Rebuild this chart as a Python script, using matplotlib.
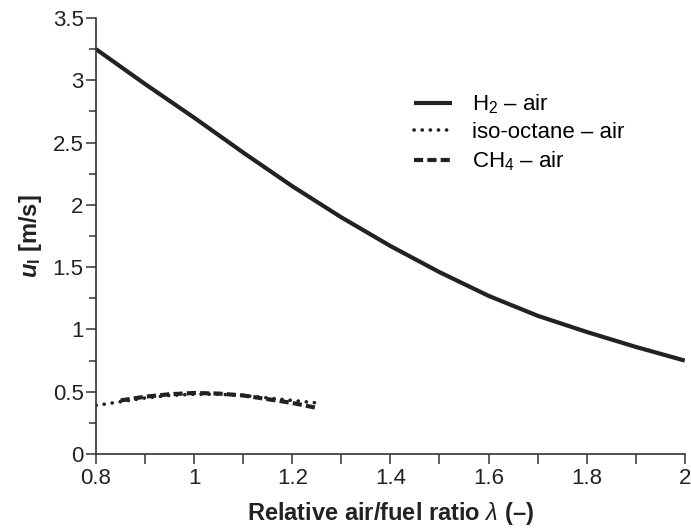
import numpy as np
import matplotlib.pyplot as plt
from matplotlib.ticker import FixedLocator, MultipleLocator

plt.rcParams['font.family'] = ['Liberation Sans', 'DejaVu Sans']
plt.rcParams['mathtext.fontset'] = 'custom'
plt.rcParams['mathtext.rm'] = 'Liberation Sans'
plt.rcParams['mathtext.it'] = 'Liberation Sans:italic'
plt.rcParams['mathtext.bf'] = 'Liberation Sans:bold'
plt.rcParams['mathtext.bfit'] = 'Liberation Sans:bold:italic'

# laminar burning velocity vs relative air/fuel ratio
lam_h2 = [0.8, 0.9, 1.0, 1.1, 1.2, 1.3, 1.4, 1.5, 1.6, 1.7, 1.8, 1.9, 2.0]
u_h2 = [3.25, 2.97, 2.70, 2.42, 2.15, 1.90, 1.67, 1.46, 1.27, 1.11, 0.98, 0.86, 0.75]

lam_iso = [0.8, 0.85, 0.9, 0.95, 1.0, 1.05, 1.1, 1.15, 1.2, 1.25]
u_iso = [0.39, 0.42, 0.45, 0.47, 0.48, 0.48, 0.47, 0.45, 0.43, 0.41]

lam_ch4 = [0.85, 0.9, 0.95, 1.0, 1.05, 1.1, 1.15, 1.2, 1.25]
u_ch4 = [0.43, 0.46, 0.48, 0.49, 0.485, 0.47, 0.44, 0.41, 0.37]

x_ticks = [0.8, 1.0, 1.2, 1.4, 1.6, 1.8, 2.0]
x_labels = ['0.8', '1', '1.2', '1.4', '1.6', '1.8', '2']
y_ticks = [0, 0.5, 1.0, 1.5, 2.0, 2.5, 3.0, 3.5]
y_labels = ['0', '0.5', '1', '1.5', '2', '2.5', '3', '3.5']

ink = '#222222'

fig = plt.figure(figsize=(6.91, 5.31), dpi=100)
ax = fig.add_axes([0.139, 0.145, 0.852, 0.821])

ax.plot(lam_h2, u_h2, color=ink, lw=3.0, solid_capstyle='butt', solid_joinstyle='round',
        label=r'H$_2$ – air')
ax.plot(lam_iso, u_iso, color=ink, lw=2.6, linestyle=(0, (0.05, 2.2)), dash_capstyle='round',
        label='iso-octane – air')
ax.plot(lam_ch4, u_ch4, color=ink, lw=3.0, linestyle=(0, (2.2, 1.0)), label=r'CH$_4$ – air')

ax.set_xlim(0.8, 2.0)
ax.set_ylim(0, 3.5)
ax.spines['top'].set_visible(False)
ax.spines['right'].set_visible(False)
for s in ('left', 'bottom'):
    ax.spines[s].set_linewidth(1.2)
    ax.spines[s].set_color('#333333')

ax.xaxis.set_major_locator(FixedLocator(x_ticks))
ax.xaxis.set_minor_locator(MultipleLocator(0.1))
ax.set_xticklabels(x_labels)
ax.yaxis.set_major_locator(FixedLocator(y_ticks))
ax.yaxis.set_minor_locator(MultipleLocator(0.25))
ax.set_yticklabels(y_labels)
ax.tick_params(which='major', direction='out', length=7, width=1.1, labelsize=16,
               color='#333333', labelcolor=ink)
ax.tick_params(which='minor', direction='out', length=5, width=1.1, color='#333333')
ax.tick_params(axis='x', which='minor', length=7)
ax.tick_params(axis='x', which='major', pad=3)
ax.tick_params(axis='y', which='major', pad=2)

ax.set_xlabel(r'Relative air/fuel ratio $\mathit{\lambda}$ (–)', fontsize=17, fontweight='bold',
              labelpad=8, color=ink)
ax.set_ylabel(r'$\mathbfit{u}_{\mathbf{l}}$ [m/s]', fontsize=17, fontweight='bold',
              labelpad=6, color=ink)

ax.legend(loc='upper left', bbox_to_anchor=(0.525, 0.85), frameon=False, fontsize=16,
          handlelength=1.7, handletextpad=0.9, labelspacing=0.28, borderaxespad=0)

fig.savefig('out.png', dpi=100)
